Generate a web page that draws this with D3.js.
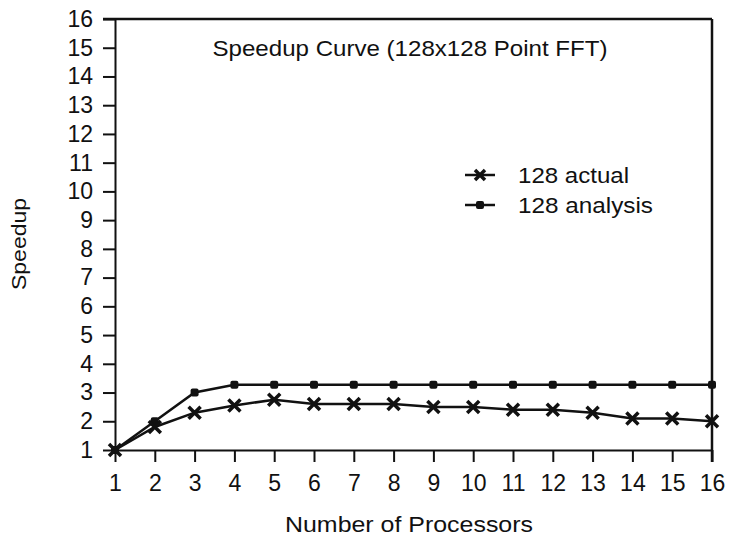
<!DOCTYPE html>
<html>
<head>
<meta charset="utf-8">
<script src="https://cdn.jsdelivr.net/npm/d3@7"></script>
<style>
    body { margin: 0; background: #fff; }
    text { font-family: "Liberation Sans", Arial, sans-serif; fill: #111; }
</style>
</head>
<body>
<script>
//chart data
var processors = [1, 2, 3, 4, 5, 6, 7, 8, 9, 10, 11, 12, 13, 14, 15, 16];
var actual = [1, 1.8, 2.3, 2.55, 2.75, 2.6, 2.6, 2.6, 2.5, 2.5, 2.4, 2.4, 2.3, 2.1, 2.1, 2.0];
var analysis = [1, 2, 3, 3.27, 3.27, 3.27, 3.27, 3.27, 3.27, 3.27, 3.27, 3.27, 3.27, 3.27, 3.27, 3.27];
var yTicks = [1, 2, 3, 4, 5, 6, 7, 8, 9, 10, 11, 12, 13, 14, 15, 16];
var seriesNames = ["128 actual", "128 analysis"];
var chartTitle = "Speedup Curve (128x128 Point FFT)";

(function(){

window.onload = setChart();

function setChart(){

    //frame dimensions
    var width = 731,
        height = 539;

    var svg = d3.select("body")
        .append("svg")
        .attr("width", width)
        .attr("height", height);

    //linear scales for both axes
    var x = d3.scaleLinear()
        .domain([1, 16])
        .range([115, 712]);

    var y = d3.scaleLinear()
        .domain([1, 16])
        .range([450, 19]);

    //bottom axis, ticks hang below the line
    var xAxis = svg.append("g")
        .attr("class", "xAxis")
        .attr("transform", "translate(0," + y(1) + ")")
        .call(d3.axisBottom(x).tickValues(processors).tickSize(12).tickPadding(9).tickSizeOuter(0));

    //left axis
    var yAxis = svg.append("g")
        .attr("class", "yAxis")
        .attr("transform", "translate(" + x(1) + ",0)")
        .call(d3.axisLeft(y).tickValues(yTicks).tickSize(12).tickPadding(10).tickSizeOuter(0));

    svg.selectAll(".xAxis path, .yAxis path, .tick line")
        .attr("stroke", "#111")
        .attr("stroke-width", 2);

    svg.selectAll(".tick text")
        .style("font-family", "'Liberation Sans', Arial, sans-serif")
        .style("font-size", "23px")
        .attr("fill", "#111");

    xAxis.selectAll(".tick text").attr("dy", "0.85em");

    //top and right frame lines
    svg.append("line")
        .attr("x1", x(1) - 12).attr("x2", x(16))
        .attr("y1", y(16)).attr("y2", y(16))
        .attr("stroke", "#111").attr("stroke-width", 2.5);

    svg.append("line")
        .attr("x1", x(16)).attr("x2", x(16))
        .attr("y1", y(16)).attr("y2", y(1) + 12)
        .attr("stroke", "#111").attr("stroke-width", 2.5);

    //line generator
    var line = d3.line()
        .x(function(d, i){ return x(processors[i]); })
        .y(function(d){ return y(d); });

    svg.append("path")
        .datum(analysis)
        .attr("d", line)
        .attr("fill", "none")
        .attr("stroke", "#111")
        .attr("stroke-width", 2.5);

    svg.append("path")
        .datum(actual)
        .attr("d", line)
        .attr("fill", "none")
        .attr("stroke", "#111")
        .attr("stroke-width", 2.5);

    //small filled square markers for analysis
    svg.selectAll(".anMark")
        .data(analysis)
        .enter()
        .append("rect")
        .attr("class", "anMark")
        .attr("x", function(d, i){ return x(processors[i]) - 4; })
        .attr("y", function(d){ return y(d) - 4; })
        .attr("width", 8)
        .attr("height", 8)
        .attr("rx", 2)
        .attr("fill", "#111");

    //bold X markers for actual
    var cross = "M-6,-6L6,6M-6,6L6,-6";
    svg.selectAll(".acMark")
        .data(actual)
        .enter()
        .append("path")
        .attr("class", "acMark")
        .attr("transform", function(d, i){ return "translate(" + x(processors[i]) + "," + y(d) + ")"; })
        .attr("d", cross)
        .attr("stroke", "#111")
        .attr("stroke-width", 3.5)
        .attr("fill", "none");

    //title
    svg.append("text")
        .attr("x", 410)
        .attr("y", 56)
        .attr("text-anchor", "middle")
        .attr("textLength", 395)
        .attr("lengthAdjust", "spacingAndGlyphs")
        .style("font-size", "22px")
        .text(chartTitle);

    //legend
    var legend = svg.selectAll(".legend")
        .data(seriesNames)
        .enter()
        .append("g")
        .attr("class", "legend")
        .attr("transform", function(d, i){ return "translate(465," + (175 + i * 30) + ")"; });

    legend.append("line")
        .attr("x1", 0).attr("x2", 30)
        .attr("stroke", "#111").attr("stroke-width", 2.5);

    legend.filter(function(d, i){ return i == 0; })
        .append("path")
        .attr("transform", "translate(15,0)")
        .attr("d", "M-5,-5L5,5M-5,5L5,-5")
        .attr("stroke", "#111").attr("stroke-width", 3.5);

    legend.filter(function(d, i){ return i == 1; })
        .append("rect")
        .attr("x", 11).attr("y", -4)
        .attr("width", 8).attr("height", 8)
        .attr("rx", 2)
        .attr("fill", "#111");

    legend.append("text")
        .attr("x", 53)
        .attr("dy", "0.36em")
        .attr("textLength", function(d, i){ return i == 0 ? 111 : 135; })
        .attr("lengthAdjust", "spacingAndGlyphs")
        .style("font-size", "22px")
        .text(function(d){ return d; });

    //axis titles
    svg.append("text")
        .attr("x", 409)
        .attr("y", 532)
        .attr("text-anchor", "middle")
        .attr("textLength", 248)
        .attr("lengthAdjust", "spacingAndGlyphs")
        .style("font-size", "22px")
        .text("Number of Processors");

    svg.append("text")
        .attr("transform", "translate(26,244) rotate(-90)")
        .attr("text-anchor", "middle")
        .attr("textLength", 92)
        .attr("lengthAdjust", "spacingAndGlyphs")
        .style("font-size", "21px")
        .text("Speedup");
}

})();
</script>
</body>
</html>
